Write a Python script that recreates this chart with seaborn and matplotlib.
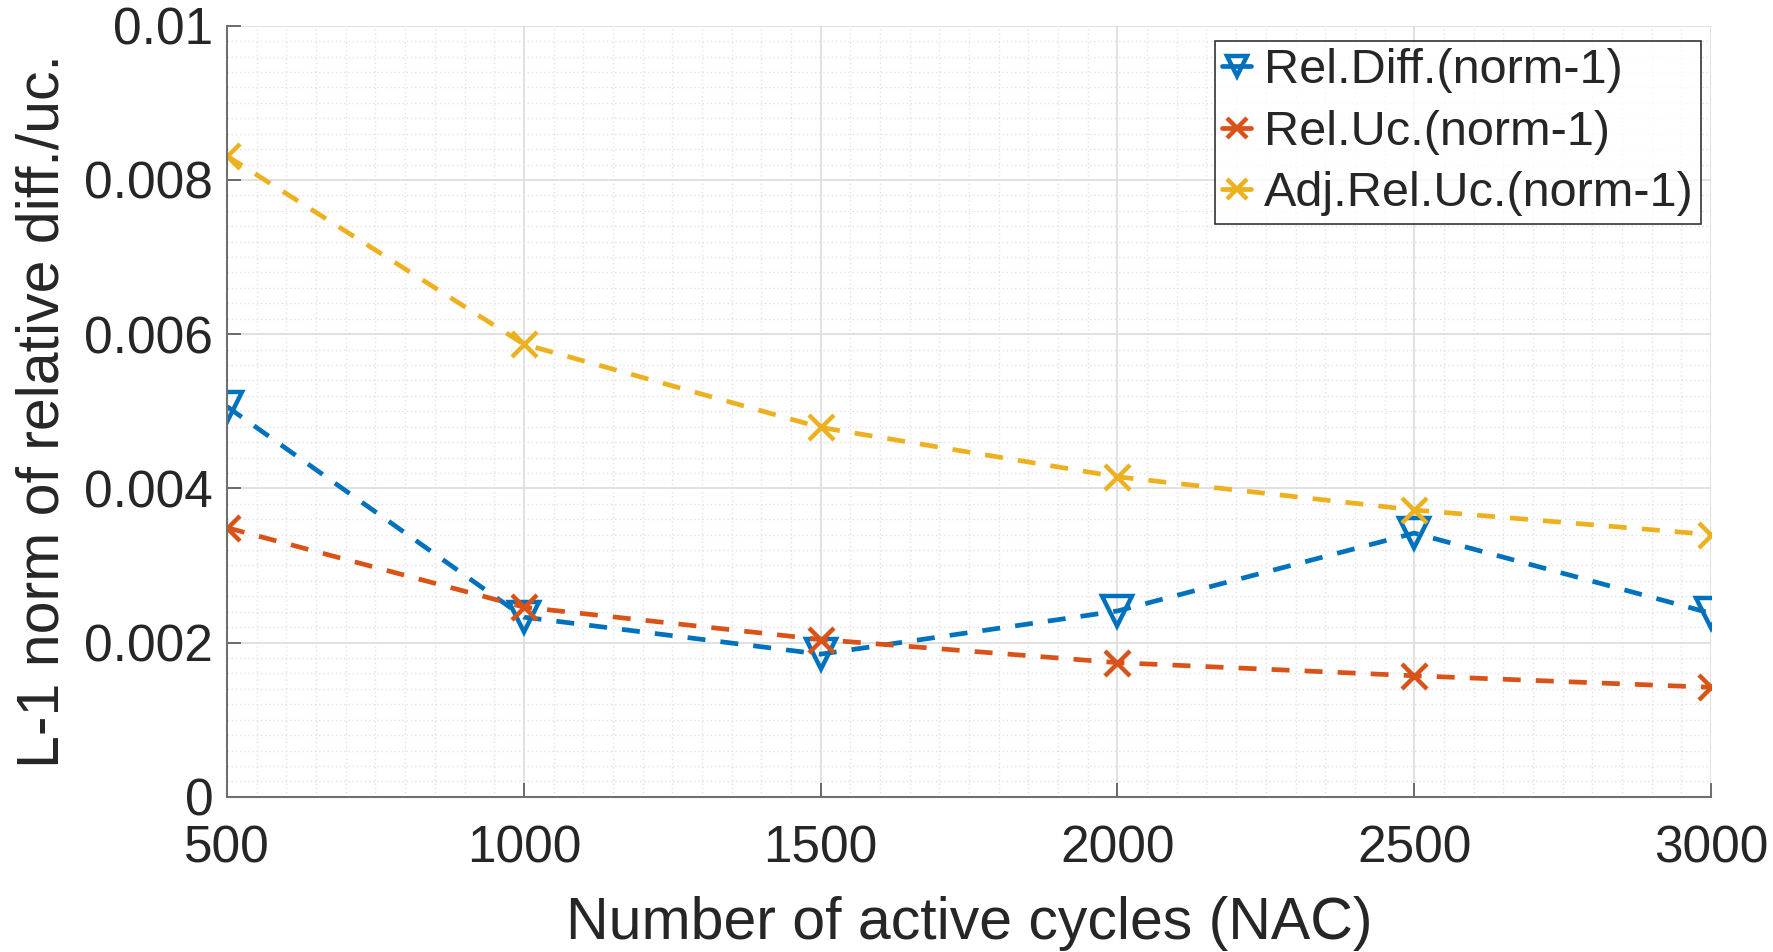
import numpy as np
import pandas as pd
import matplotlib
matplotlib.use("Agg")
import matplotlib.pyplot as plt
import seaborn as sns
from matplotlib.ticker import MultipleLocator

# Measured norms versus number of active cycles
nac = [500, 1000, 1500, 2000, 2500, 3000]
rel_diff = [0.00506, 0.00233, 0.00185, 0.00241, 0.00342, 0.00238]
rel_uc = [0.00349, 0.00246, 0.00204, 0.00174, 0.00157, 0.00142]
adj_rel_uc = [0.00831, 0.00587, 0.00479, 0.00415, 0.00372, 0.00340]

series_names = ["Rel.Diff.(norm-1)", "Rel.Uc.(norm-1)", "Adj.Rel.Uc.(norm-1)"]
series_values = [rel_diff, rel_uc, adj_rel_uc]
colors = ["#0072BD", "#D95319", "#EDB120"]
markers = ["v", "x", "x"]

sns.set_theme(style="white")
plt.rcParams["font.family"] = ["Liberation Sans", "DejaVu Sans"]

fig = plt.figure(figsize=(17.74, 9.52), dpi=100)
ax = fig.add_axes([0.128, 0.163, 0.8365, 0.81])

for name, vals, col, mk in zip(series_names, series_values, colors, markers):
    df = pd.DataFrame({"NAC": nac, "val": vals})
    sns.lineplot(
        data=df, x="NAC", y="val", ax=ax, color=col, label=name,
        linewidth=3.4, linestyle=(0, (3.8, 3.2)),
        marker=mk, markersize=22 if mk == "v" else 18,
        markeredgewidth=3.2, markerfacecolor="none", markeredgecolor=col,
    )

ax.set_xlim(500, 3000)
ax.set_ylim(0, 0.01)
ax.xaxis.set_major_locator(MultipleLocator(500))
ax.xaxis.set_minor_locator(MultipleLocator(50))
ax.yaxis.set_major_locator(MultipleLocator(0.002))
ax.yaxis.set_minor_locator(MultipleLocator(0.0002))
ax.set_yticks([0, 0.002, 0.004, 0.006, 0.008, 0.01])
ax.set_yticklabels(["0", "0.002", "0.004", "0.006", "0.008", "0.01"])

ax.grid(which="major", color="#dcdcdc", linewidth=1.2, linestyle="-")
ax.grid(which="minor", color="#e2e2e2", linewidth=1.0, linestyle=(0, (1, 2)))
ax.set_axisbelow(True)

for s in ["top", "right"]:
    ax.spines[s].set_visible(False)
for s in ["left", "bottom"]:
    ax.spines[s].set_color("#707070")
    ax.spines[s].set_linewidth(1.5)

ax.tick_params(axis="both", which="major", direction="in", length=10,
               width=1.2, color="#555555", labelsize=37, labelcolor="#262626",
               left=True, bottom=True)
ax.tick_params(axis="x", which="major", pad=20)
ax.tick_params(axis="y", which="major", pad=10)
ax.tick_params(axis="both", which="minor", length=0)

ax.set_xlabel("Number of active cycles (NAC)", fontsize=42.5, color="#262626", labelpad=16)
ax.set_ylabel("L-1 norm of relative diff./uc.", fontsize=42.5, color="#262626", labelpad=10)

leg = ax.legend(loc="upper right", bbox_to_anchor=(0.993, 0.98), fontsize=35,
                frameon=True, fancybox=False, edgecolor="black",
                handlelength=0.6, handletextpad=0.25, borderpad=0.15,
                labelspacing=0.34, borderaxespad=0.0)
leg.get_frame().set_linewidth(1.2)
for h in leg.legend_handles:
    h.set_linestyle("-")
    h.set_markersize(15)

fig.savefig("out.png", dpi=100, facecolor="white")
